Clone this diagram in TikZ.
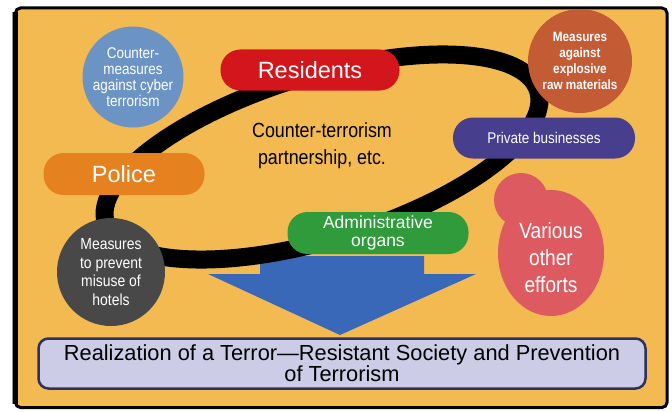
\documentclass[tikz,border=0pt]{standalone}
\usepackage{fontspec}
\setmainfont{Liberation Sans}
\newfontfamily\narrowfont{Liberation Sans}[FakeStretch=0.87]
\usetikzlibrary{shapes.geometric}
\definecolor{panel}{RGB}{243,186,82}
\definecolor{resred}{RGB}{210,22,28}
\definecolor{polorange}{RGB}{229,130,31}
\definecolor{privblue}{RGB}{71,62,142}
\definecolor{admgreen}{RGB}{47,155,58}
\definecolor{cyberblue}{RGB}{107,148,196}
\definecolor{explbrown}{RGB}{195,91,53}
\definecolor{hotelgray}{RGB}{72,72,72}
\definecolor{effpink}{RGB}{220,90,96}
\definecolor{arrowblue}{RGB}{58,104,184}
\definecolor{goalfill}{RGB}{204,204,230}
\definecolor{goalline}{RGB}{46,48,96}
\definecolor{shadowgray}{RGB}{150,150,150}
\begin{document}
\begin{tikzpicture}[x=1pt,y=-1pt,
  pill/.style={rounded corners=20pt, minimum height=41pt, text=white, inner sep=0pt, align=center},
  disc/.style={circle, text=white, align=center, inner sep=0pt}]
\useasboundingbox (0,0) rectangle (672,412);
\fill[white] (0,0) rectangle (672,412);
% panel
\draw[line width=2pt, shadowgray] (12.5,12) -- (12.5,404);
\draw[line width=3pt, fill=panel, rounded corners=5pt] (15.5,8) rectangle (667,407.5);
\draw[line width=4.5pt] (15.5,12) -- (15.5,404);
% big arrow
\fill[arrowblue] (260,256) -- (424,256) -- (424,274) -- (476,274) -- (340,335) -- (208,274) -- (260,274) -- cycle;
% ring
\draw[line width=18pt, rotate around={17:(322,157)}] (322,157) ellipse [x radius=226pt, y radius=82pt];
% centre text
\node[font=\narrowfont\fontsize{20.5}{27}\selectfont, align=center] (partner) at (322,146) {Counter-terrorism\\partnership, etc.};
% circles
\node[disc, fill=cyberblue, minimum size=101pt, font=\narrowfont\fontsize{15.5}{16}\selectfont] (cyber) at (133,77) {Counter-\\measures\\against cyber\\terrorism};
\node[disc, fill=explbrown, minimum size=104pt, font=\narrowfont\bfseries\fontsize{13.5}{16}\selectfont] (expl) at (580,61) {Measures\\against\\explosive\\raw materials};
\node[disc, fill=hotelgray, minimum size=108pt, font=\narrowfont\fontsize{16}{18.7}\selectfont] (hotel) at (111,272) {Measures\\to prevent\\misuse of\\hotels};
% various other efforts
\fill[effpink] (521,200) circle [radius=27pt];
\fill[effpink] (551,253) ellipse [x radius=53pt, y radius=63pt];
\node[text=white, align=center, inner sep=0pt, font=\narrowfont\fontsize{22}{27}\selectfont] (various) at (551,258) {Various\\other\\efforts};
% pills
\node[pill, fill=resred, minimum width=179pt, font=\fontsize{23.5}{26}\selectfont] (res) at (310,70) {Residents};
\node[pill, fill=polorange, minimum width=161pt, minimum height=42pt, font=\fontsize{23.5}{26}\selectfont] (police) at (124,174) {Police};
\node[pill, fill=privblue, minimum width=182pt, font=\narrowfont\fontsize{15.5}{18}\selectfont] (priv) at (544,138) {Private businesses};
\node[pill, fill=admgreen, minimum width=181pt, minimum height=42pt, font=\fontsize{17.5}{18}\selectfont] (admin) at (378,233) {Administrative\\organs};
% goal box
\node[draw=goalline, line width=2.5pt, fill=goalfill, rounded corners=10pt, minimum width=607pt, minimum height=50pt, inner sep=0pt, align=center, font=\fontsize{21.8}{21}\selectfont] (goal) at (342,363.5) {Realization of a Terror―Resistant Society and Prevention\\of Terrorism};
\end{tikzpicture}
\end{document}
